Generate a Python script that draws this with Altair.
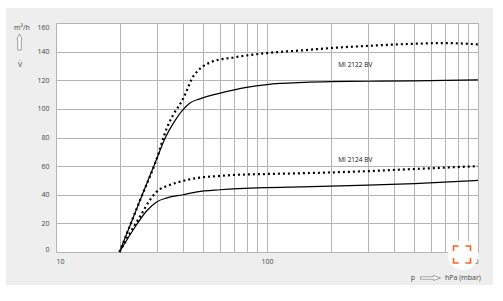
import altair as alt
import pandas as pd

# Pumping speed (m3/h) against inlet pressure p (hPa) for two pumps,
# each with a solid and a dotted characteristic.
p_2122_solid = [20, 25, 30, 33, 36, 40, 43, 48, 60, 70, 80, 100, 150, 200, 300, 500, 700, 1000]
s_2122_solid = [0, 36, 65, 80, 90, 99.5, 104, 107, 111, 113.3, 115, 117, 118.5, 119, 119.3, 119.6, 119.9, 120.3]

p_2122_dotted = [20, 25, 30, 33.6, 36, 40, 42, 44, 46.6, 50, 55, 70, 100, 150, 200, 300, 500, 700, 1000]
s_2122_dotted = [0, 36, 65, 87, 96, 107, 114, 121, 126, 130, 133, 136, 139, 141, 142.5, 144, 145.5, 146, 145]

p_2124_solid = [20, 23.2, 27, 30, 33.6, 40, 46.6, 60, 100, 143, 200, 300, 500, 1000]
s_2124_solid = [0, 15.4, 29, 35, 37.8, 40, 42, 43.5, 45, 45.5, 46, 46.7, 47.8, 50]

p_2124_dotted = [20, 22.4, 25, 27.9, 29.5, 31, 33.4, 37.4, 41.6, 48, 57.7, 69, 100, 143, 300, 500, 1000]
s_2124_dotted = [0, 13, 24.7, 36.4, 41, 43.8, 46, 48.5, 50.3, 52, 53, 53.8, 54.5, 55, 56.5, 58, 60]

# Curve captions and where they sit (data coordinates)
label_text = ["MI 2122 BV", "MI 2124 BV"]
label_p = [262, 262]
label_s = [130.5, 64]

# Axis ticks / grid
x_grid = [10, 20, 30, 40, 50, 60, 70, 80, 90, 100, 200, 300, 400, 500, 600, 700, 800, 900, 1000]
x_labels = [10, 100, 1000]
y_grid = [0, 20, 40, 60, 80, 100, 120, 140, 160]

rows = []
for name, style, ps, ss in [
    ("MI 2122 BV a", "solid", p_2122_solid, s_2122_solid),
    ("MI 2122 BV b", "dotted", p_2122_dotted, s_2122_dotted),
    ("MI 2124 BV a", "solid", p_2124_solid, s_2124_solid),
    ("MI 2124 BV b", "dotted", p_2124_dotted, s_2124_dotted),
]:
    for p, s in zip(ps, ss):
        rows.append({"p": p, "speed": s, "curve": name, "style": style})
curves = pd.DataFrame(rows)
labels = pd.DataFrame({"p": label_p, "speed": label_s, "text": label_text})

W, H = 422, 229
FONT = "Open Sans"
TXT = "#444444"

label_test = " || ".join(f"datum.value == {v}" for v in x_labels)

x_enc = alt.X(
    "p:Q",
    scale=alt.Scale(type="log", domain=[10, 1000], nice=False),
    axis=alt.Axis(
        values=x_grid, format="d", labelExpr=f"({label_test}) ? datum.label : ''",
        title=None, ticks=False, domain=False, labelFlush=True, labelOverlap=False,
        labelPadding=5,
    ),
)
y_enc = alt.Y(
    "speed:Q",
    scale=alt.Scale(domain=[0, 160], nice=False),
    axis=alt.Axis(
        values=y_grid, title=None, ticks=False, domain=False, labelFlush=True,
        labelOverlap=False, labelPadding=7,
    ),
)

solid = (
    alt.Chart(curves)
    .transform_filter(alt.datum.style == "solid")
    .mark_line(color="black", strokeWidth=1.2, interpolate="monotone")
    .encode(x=x_enc, y=y_enc, detail="curve:N")
)
dotted = (
    alt.Chart(curves)
    .transform_filter(alt.datum.style == "dotted")
    .mark_line(color="black", strokeWidth=2.2, strokeDash=[2, 3], strokeCap="butt",
               interpolate="monotone")
    .encode(x=x_enc, y=y_enc, detail="curve:N")
)
captions = alt.Chart(labels).mark_text(
    font=FONT, fontSize=6.5, color="#111111"
).encode(x=x_enc, y=y_enc, text="text:N")

one = alt.Data(values=[{"k": 0}])


def strip(x0, x1, y0, y1):
    return alt.Chart(one).mark_rect(color="white").encode(
        x=alt.value(x0), x2=alt.value(x1), y=alt.value(y0), y2=alt.value(y1)
    )


# white margin round the grey panel
margins = [
    strip(-56, -50, -23, 278),
    strip(437, 447, -23, 278),
    strip(-56, 447, -23, -15),
    strip(-56, 447, 262, 278),
]


def note(text, x, y, align="center", size=7):
    return alt.Chart(one).mark_text(
        text=text, font=FONT, fontSize=size, color=TXT, align=align, baseline="middle"
    ).encode(x=alt.value(x), y=alt.value(y))


def glyph(path, x, y, size, stroke, width=0.8):
    return alt.Chart(one).mark_point(
        shape=path, size=size, filled=True, fill="white",
        stroke=stroke, strokeWidth=width, opacity=1,
    ).encode(x=alt.value(x), y=alt.value(y))


up_arrow = "M0,-1 L0.33,-0.35 L0.22,-0.3 L0.22,1 L-0.22,1 L-0.22,-0.3 L-0.33,-0.35 Z"
right_arrow = "M1,0 L0.3,-0.25 L0.3,-0.12 L-1,-0.12 L-1,0.12 L0.3,0.12 L0.3,0.25 Z"
corners = ("M-1,-0.4 L-1,-1 L-0.4,-1 M0.4,-1 L1,-1 L1,-0.4 "
           "M1,0.4 L1,1 L0.4,1 M-0.4,1 L-1,1 L-1,0.4")

titles = [
    note("m³/h", -34, 5),
    glyph(up_arrow, -36.5, 19, 256, "#888888"),
    note("V\u0307", -36, 42),
    note("p", 357, 255),
    glyph(right_arrow, 374.5, 255, 400, "#888888"),
    note("hPa (mbar)", 389, 255, align="left"),
]

badge = [
    alt.Chart(one).mark_circle(color="white", size=908, opacity=1).encode(
        x=alt.value(407), y=alt.value(232)
    ),
    alt.Chart(one).mark_point(
        shape=corners, size=289, filled=False, stroke="#f26522", strokeWidth=1.6, opacity=1
    ).encode(x=alt.value(406), y=alt.value(231.5)),
]

chart = (
    alt.layer(*margins, solid, dotted, captions, *titles, *badge)
    .properties(
        width=W, height=H,
        autosize=alt.AutoSizeParams(type="none"),
        padding={"left": 56, "top": 23, "right": 25, "bottom": 49},
        background="#eeeeee",
    )
    .configure_view(fill="white", stroke="transparent")
    .configure_axis(
        gridColor="#b4b4b4", gridWidth=1, gridOpacity=1,
        labelFont=FONT, labelFontSize=7, labelColor=TXT,
    )
)

chart.save("out.html", embed_options={"renderer": "svg", "actions": False})
